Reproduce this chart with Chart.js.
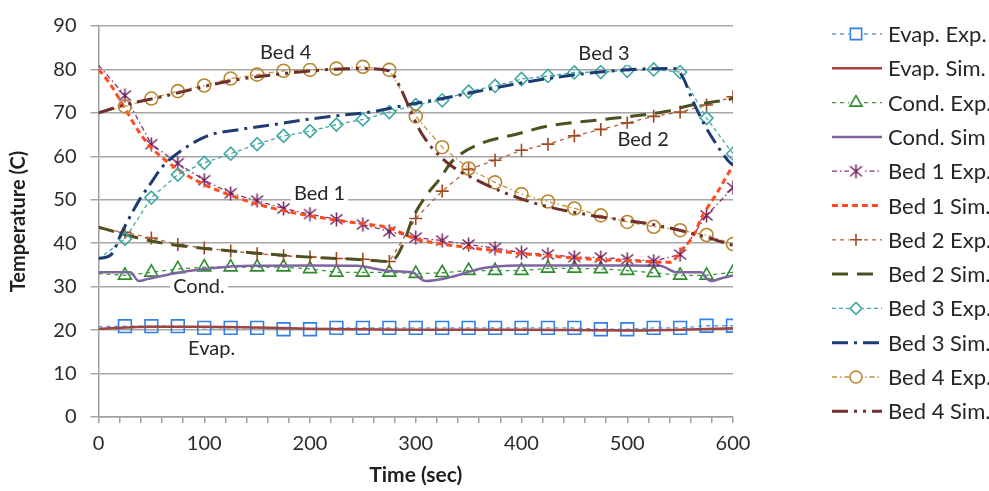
<!DOCTYPE html>
<html>
<head>
<meta charset="utf-8">
<script src="https://cdn.jsdelivr.net/npm/chart.js@4/dist/chart.umd.min.js"></script>
<style>
  html, body { margin: 0; padding: 0; background: #fff; }
  #wrap { width: 989px; height: 491px; }
</style>
</head>
<body>
<div id="wrap"><canvas id="tempChart" width="989" height="491"></canvas></div>
<script>
// experimental readings, every 25 s
var expTime = [0, 25, 50, 75, 100, 125, 150, 175, 200, 225, 250, 275, 300, 325, 350, 375, 400, 425, 450, 475, 500, 525, 550, 575, 600];
var evapExp = [20.8, 20.9, 20.9, 20.9, 20.5, 20.5, 20.5, 20.2, 20.2, 20.5, 20.5, 20.5, 20.5, 20.5, 20.5, 20.5, 20.5, 20.5, 20.5, 20.2, 20.2, 20.5, 20.5, 21, 21];
var condExp = [33, 32.6, 33.3, 34.1, 34.5, 34.5, 34.5, 34.5, 34.1, 33.3, 33.3, 33.3, 33, 33.2, 33.7, 33.7, 33.7, 34.2, 34.2, 34.1, 33.7, 33.2, 32.6, 32.6, 33.3];
var bed1Exp = [81, 74, 62.8, 58.4, 54.5, 51.5, 49.8, 48, 46.7, 45.5, 44.3, 42.7, 41.3, 40.6, 39.7, 38.9, 37.8, 37.4, 36.8, 36.7, 36.3, 35.9, 37.4, 46.4, 52.8];
var bed2Exp = [43.4, 42.5, 41.2, 39.7, 38.9, 38.2, 37.6, 37.1, 36.8, 36.5, 36.3, 35.8, 45.7, 52, 57, 59.1, 61.4, 62.8, 64.7, 66.2, 67.7, 69.2, 70.2, 71.8, 73.7];
var bed3Exp = [36.3, 41, 50.5, 55.8, 58.5, 60.6, 62.8, 64.7, 65.8, 67.3, 68.5, 70.2, 71.8, 72.9, 74.9, 76.2, 77.8, 78.5, 79.3, 79.4, 79.7, 80, 79.4, 68.8, 60.6];
var bed4Exp = [70, 71.5, 73.3, 75, 76.3, 77.9, 78.8, 79.7, 79.9, 80.2, 80.6, 79.9, 69.2, 62.1, 57.2, 54, 51.3, 49.6, 48, 46.4, 44.9, 43.8, 43, 41.9, 39.8];

// simulation curves
var evapSimTime = [0, 50, 100, 150, 200, 250, 300, 350, 400, 450, 500, 550, 600];
var evapSim = [20.3, 20.8, 20.8, 20.6, 20.3, 20.2, 20.1, 20.1, 20.1, 20.0, 19.9, 20.1, 20.4];
var condSimTime = [0, 30, 38, 47, 73, 98, 123, 147, 200, 244, 276, 297, 304, 309, 333, 364, 396, 443, 500, 531, 547, 570, 574, 579, 590, 600];
var condSim = [33.3, 33.3, 31.3, 31.8, 33.1, 34.0, 34.6, 34.8, 34.9, 34.8, 33.6, 33.3, 31.9, 31.3, 32.2, 34.3, 34.9, 34.9, 34.9, 34.8, 33.3, 33.3, 32.2, 31.3, 32.0, 32.6];
var bed1SimTime = [0, 10, 25, 40, 50, 75, 100, 125, 150, 175, 200, 225, 250, 275, 290, 300, 325, 350, 375, 400, 425, 450, 475, 500, 525, 540, 553, 563, 570, 585, 600];
var bed1Sim = [80, 77, 71, 65, 62, 57, 53.5, 51, 49, 47.5, 46.3, 45.3, 44.5, 43.5, 42, 41, 39.8, 39, 38.3, 37.6, 37.1, 36.6, 36.2, 36, 35.7, 35.6, 38.9, 41.9, 45.8, 51.6, 58];
var bed2SimTime = [0, 25, 50, 75, 100, 150, 200, 250, 275, 282, 290, 297, 310, 322, 335, 360, 395, 426, 489, 536, 561, 592, 600];
var bed2Sim = [43.7, 42, 40.5, 39.5, 38.8, 37.7, 36.8, 36.2, 35.8, 37, 41, 45.7, 51, 54.6, 59, 62.8, 65.1, 67, 68.8, 70.3, 71.8, 72.9, 73.3];
var bed3SimTime = [0, 12, 22, 34, 40, 50, 60, 72, 103, 134, 166, 197, 228, 260, 291, 316, 350, 395, 442, 504, 545, 553, 561, 573, 585, 595, 600];
var bed3Sim = [36.5, 37.4, 42.5, 48, 50.5, 54, 57.5, 60.2, 64.7, 66.2, 67.3, 68.5, 69.4, 70.3, 71.8, 72.9, 74.5, 76.7, 78.5, 80, 80.2, 78, 73.3, 67.3, 62.5, 59.1, 58];
var bed4SimTime = [0, 24, 56, 97, 125, 156, 213, 250, 275, 285, 295, 305, 325, 363, 410, 466, 520, 567, 600];
var bed4Sim = [70, 71.8, 73.5, 75.9, 77.4, 78.5, 79.9, 80.2, 79.7, 76, 70.5, 65.5, 59.5, 53.9, 49.4, 46.4, 44.5, 41.9, 39.5];

// text placed inside the plot
var plotLabels = [
    { text: 'Bed 4', x: 177, y: 84 },
    { text: 'Bed 3', x: 478, y: 83.6 },
    { text: 'Bed 2', x: 515, y: 63.8 },
    { text: 'Bed 1', x: 209, y: 51.4 },
    { text: 'Cond.', x: 95, y: 30.1 },
    { text: 'Evap.', x: 107, y: 15.7 }
];

function pts(xs, ys) {
    return xs.map(function(x, i) { return { x: x, y: ys[i] }; });
}

// six-armed asterisk marker for Bed 1 Exp.
function makeAsterisk(color) {
    var c = document.createElement('canvas');
    c.width = 15; c.height = 15;
    var g = c.getContext('2d');
    g.strokeStyle = color;
    g.lineWidth = 1.5;
    g.beginPath();
    g.moveTo(7.5, 0.5); g.lineTo(7.5, 14.5);
    g.moveTo(1.5, 2.5); g.lineTo(13.5, 12.5);
    g.moveTo(13.5, 2.5); g.lineTo(1.5, 12.5);
    g.stroke();
    return c;
}
var asterisk = makeAsterisk('#6E1E5A');

function expSet(label, data, color, markColor, style, radius, dash) {
    return {
        label: label,
        data: pts(expTime, data),
        borderColor: color,
        borderWidth: 1.3,
        borderDash: dash,
        pointStyle: style,
        pointRadius: function(c) { return c.raw && c.raw.x === 0 ? 0 : radius; },
        pointBorderColor: markColor,
        pointBackgroundColor: 'rgba(255,255,255,0)',
        pointBorderWidth: 1.6,
        tension: 0,
        isExp: true
    };
}

function simSet(label, xs, ys, color, dash, width) {
    return {
        label: label,
        data: pts(xs, ys),
        borderColor: color,
        borderWidth: width,
        borderDash: dash,
        pointRadius: 0,
        cubicInterpolationMode: 'monotone',
        isExp: false
    };
}

var datasets = [
    expSet('Evap. Exp.', evapExp, '#5B9BD5', '#2F80ED', 'rect', 9, [4, 4]),
    simSet('Evap. Sim.', evapSimTime, evapSim, '#A04440', [], 2.5),
    expSet('Cond. Exp.', condExp, '#3A9A3A', '#2E8B2E', 'triangle', 7.5, [4, 4]),
    simSet('Cond. Sim', condSimTime, condSim, '#8064A2', [], 2.5),
    expSet('Bed 1 Exp.', bed1Exp, '#8A3070', '#6E1E5A', asterisk, 7, [5, 3, 1.5, 3]),
    simSet('Bed 1 Sim.', bed1SimTime, bed1Sim, '#FF4B1F', [6, 4], 3),
    expSet('Bed 2 Exp.', bed2Exp, '#B0603A', '#A0481E', 'cross', 6.5, [4, 4]),
    simSet('Bed 2 Sim.', bed2SimTime, bed2Sim, '#4F5020', [16, 9], 3),
    expSet('Bed 3 Exp.', bed3Exp, '#40A9A5', '#40A9A5', 'rectRot', 6.5, [4, 3]),
    simSet('Bed 3 Sim.', bed3SimTime, bed3Sim, '#1F3B73', [16, 6, 3, 6], 3),
    expSet('Bed 4 Exp.', bed4Exp, '#C0943C', '#B8862E', 'circle', 6.5, [5, 3, 1.5, 3]),
    simSet('Bed 4 Sim.', bed4SimTime, bed4Sim, '#70302E', [16, 6, 3, 6, 3, 6], 3)
];
// later series sit on top, like the source sheet
datasets.forEach(function(d, i) { d.order = -i; });

function drawMarker(g, style, x, y, r, color) {
    g.save();
    g.strokeStyle = color;
    g.lineWidth = 1.6;
    g.setLineDash([]);
    g.beginPath();
    if (style === 'rect') {
        var s = r * Math.SQRT1_2;
        g.rect(x - s, y - s, 2 * s, 2 * s);
    } else if (style === 'triangle') {
        g.moveTo(x, y - r);
        g.lineTo(x + r * 0.866, y + r * 0.5);
        g.lineTo(x - r * 0.866, y + r * 0.5);
        g.closePath();
    } else if (style === 'cross') {
        g.moveTo(x, y - r); g.lineTo(x, y + r);
        g.moveTo(x - r, y); g.lineTo(x + r, y);
    } else if (style === 'rectRot') {
        g.moveTo(x, y - r); g.lineTo(x + r, y); g.lineTo(x, y + r); g.lineTo(x - r, y);
        g.closePath();
    } else if (style === 'circle') {
        g.arc(x, y, r, 0, Math.PI * 2);
    } else if (style instanceof HTMLCanvasElement) {
        g.drawImage(style, x - style.width / 2, y - style.height / 2);
    }
    g.stroke();
    g.restore();
}

var overlay = {
    id: 'overlay',
    afterDatasetsDraw: function(chart) {
        var g = chart.ctx;
        var xs = chart.scales.x, ys = chart.scales.y;
        g.save();
        g.font = '20px Lato';
        g.textAlign = 'center';
        g.textBaseline = 'middle';
        plotLabels.forEach(function(l) {
            var px = xs.getPixelForValue(l.x), py = ys.getPixelForValue(l.y);
            var w = g.measureText(l.text).width + 6;
            g.fillStyle = '#fff';
            g.fillRect(px - w / 2, py - 11, w, 22);
            g.fillStyle = '#262626';
            g.fillText(l.text, px, py);
        });
        g.restore();
    },
    afterDraw: function(chart) {
        var g = chart.ctx;
        g.save();
        g.font = '22px Lato';
        g.textBaseline = 'middle';
        g.textAlign = 'left';
        chart.data.datasets.forEach(function(d, i) {
            var y = 34 + i * 34.3;
            g.save();
            g.strokeStyle = d.borderColor;
            g.lineWidth = d.borderWidth;
            g.setLineDash(d.borderDash || []);
            g.beginPath();
            g.moveTo(832, y);
            g.lineTo(882, y);
            g.stroke();
            g.restore();
            if (d.isExp) {
                g.fillStyle = '#fff';
                g.fillRect(849, y - 7, 14, 14);
                var r = d.pointStyle === 'rect' ? 8 : (d.pointStyle === 'triangle' ? 7 : 6);
                drawMarker(g, d.pointStyle, 856, y, r, d.pointBorderColor);
            }
            g.fillStyle = '#262626';
            g.fillText(d.label, 888, y + 1);
        });
        g.restore();
    }
};

Chart.defaults.font.family = 'Lato';
Chart.defaults.font.size = 20;
Chart.defaults.color = '#2b2b2b';

document.addEventListener('DOMContentLoaded', function() {
    var ctx = document.getElementById('tempChart');
    new Chart(ctx, {
        type: 'line',
        data: { datasets: datasets },
        options: {
            responsive: false,
            animation: false,
            devicePixelRatio: 1,
            layout: { padding: { left: 0, right: 256, top: 16, bottom: 0 } },
            plugins: {
                legend: { display: false },
                tooltip: { enabled: false }
            },
            scales: {
                x: {
                    type: 'linear',
                    min: 0,
                    max: 600,
                    afterFit: function(s) { s.height = 74; },
                    grid: {
                        drawOnChartArea: false,
                        drawTicks: true,
                        tickLength: 6,
                        color: '#a0a0a0',
                        lineWidth: 1.5
                    },
                    border: { color: '#a0a0a0', width: 1.5 },
                    ticks: {
                        stepSize: 20,
                        autoSkip: false,
                        maxRotation: 0,
                        padding: 9,
                        callback: function(v) { return v % 100 === 0 ? v : ''; }
                    },
                    title: {
                        display: true,
                        text: 'Time (sec)',
                        font: { size: 21, weight: 'bold' },
                        color: '#1f1f1f',
                        padding: { top: 0, bottom: 3 }
                    }
                },
                y: {
                    min: 0,
                    max: 90,
                    afterFit: function(s) { s.width = 98.5; },
                    grid: {
                        color: '#a6a6a6',
                        lineWidth: 1.5,
                        drawTicks: true,
                        tickLength: 8
                    },
                    border: { color: '#a0a0a0', width: 1.5 },
                    ticks: { stepSize: 10, padding: 14 },
                    title: {
                        display: true,
                        text: 'Temperature (C)',
                        font: { size: 20, weight: 'bold' },
                        color: '#1f1f1f',
                        padding: { top: 7, bottom: 0 }
                    }
                }
            }
        },
        plugins: [overlay]
    });
});
</script>
</body>
</html>
